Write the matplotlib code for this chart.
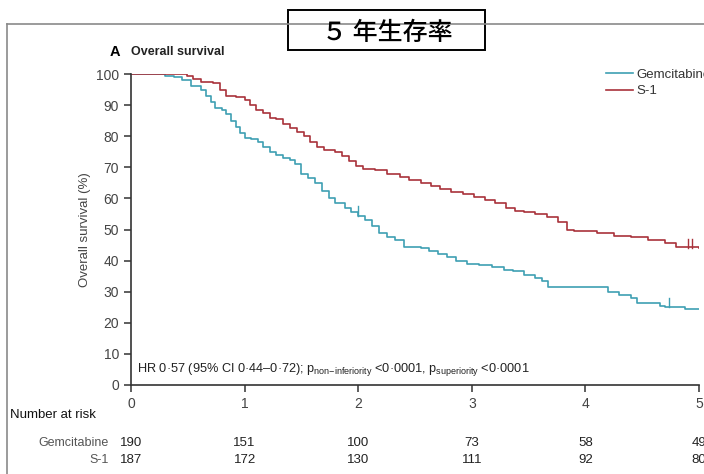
import matplotlib
matplotlib.use("Agg")
import matplotlib.pyplot as plt
from matplotlib.patches import Rectangle
from matplotlib.lines import Line2D

plt.rcParams['font.family'] = ['Liberation Sans Narrow', 'Liberation Sans', 'DejaVu Sans']
plt.rcParams['mathtext.fontset'] = 'custom'
plt.rcParams['mathtext.rm'] = 'Liberation Sans'
plt.rcParams['mathtext.it'] = 'Liberation Sans'

# Kaplan-Meier curves (years, % surviving)
gem_t = [0, 0.30, 0.38, 0.45, 0.53, 0.62, 0.66, 0.70, 0.74, 0.80, 0.84, 0.88, 0.92, 0.96,
         1.00, 1.06, 1.12, 1.16, 1.22, 1.28, 1.34, 1.40, 1.44, 1.50, 1.56, 1.62, 1.68,
         1.74, 1.80, 1.88, 1.94, 2.00, 2.06, 2.12, 2.18, 2.25, 2.32, 2.40, 2.55, 2.62,
         2.70, 2.78, 2.86, 2.96, 3.06, 3.18, 3.28, 3.36, 3.46, 3.56, 3.62, 3.67, 4.20,
         4.30, 4.40, 4.45, 4.66, 4.70, 4.88, 5.00]
gem_s = [100, 99.5, 99, 98, 96, 95, 93, 91, 89, 88.5, 87, 85, 83, 81,
         79.5, 79, 78, 76.5, 75, 74, 73, 72.5, 71, 68, 66.5, 65, 62.5,
         60, 58.5, 57, 55.5, 54.5, 53, 51, 49, 47.5, 46.5, 44.5, 44, 43,
         42, 41, 40, 39, 38.5, 38, 37, 36.5, 35.5, 34.5, 33.5, 31.5, 30,
         29, 28, 26.5, 25.5, 25, 24.5, 24.5]

s1_t = [0, 0.49, 0.55, 0.62, 0.72, 0.78, 0.84, 0.92, 1.00, 1.05, 1.10, 1.16, 1.22, 1.28,
        1.34, 1.40, 1.46, 1.52, 1.58, 1.64, 1.70, 1.80, 1.86, 1.92, 1.98, 2.04, 2.15,
        2.25, 2.37, 2.45, 2.55, 2.64, 2.72, 2.82, 2.92, 3.02, 3.12, 3.20, 3.30, 3.38,
        3.46, 3.56, 3.66, 3.76, 3.84, 3.90, 4.10, 4.25, 4.40, 4.55, 4.70, 4.80, 5.00]
s1_s = [100, 99.5, 98.5, 97.5, 97, 95, 93, 92.5, 91.5, 90, 88.5, 87.5, 86, 85.5,
        84, 82.5, 81.5, 80, 78, 76.5, 75.5, 75, 73.5, 72, 70.5, 69.5, 69,
        68, 67, 66, 65, 64, 63, 62, 61.5, 60.5, 59.5, 58.5, 57, 56,
        55.5, 55, 54, 52.5, 50, 49.5, 49, 48, 47.5, 46.5, 45.5, 44.5, 44]

gem_cens_t = [2.00, 4.74]
gem_cens_s = [54.5, 25]
s1_cens_t = [4.90, 4.94]
s1_cens_s = [44, 44]

risk_years = [0, 1, 2, 3, 4, 5]
risk_gem = [190, 151, 100, 73, 58, 49]
risk_s1 = [187, 172, 130, 111, 92, 80]

teal = '#3e9fb3'
red = '#a9323b'
W, H = 704, 474

fig = plt.figure(figsize=(7.04, 4.74), dpi=100)

# slide frame and title box
fig.add_artist(Line2D([7/W, 1], [1-24/H, 1-24/H], color='#8a8a8a', lw=1.2))
fig.add_artist(Line2D([7/W, 7/W], [0, 1-24/H], color='#8a8a8a', lw=1.2))
fig.add_artist(Rectangle((288/W, 1-50/H), 197/W, 40/H, facecolor='white',
                         edgecolor='black', lw=1.4, transform=fig.transFigure))
fig.text(387/W, 1-33/H, '５ 年生存率', fontsize=18, ha='center', va='center',
         fontweight='medium', family=['Noto Sans CJK JP', 'DejaVu Sans'])

ax = fig.add_axes([131/W, 1-385/H, 568/W, 311/H])
ax.step(gem_t, gem_s, where='post', color=teal, lw=1.2, label='Gemcitabine')
ax.step(s1_t, s1_s, where='post', color=red, lw=1.2, label='S-1')
for t, s in zip(gem_cens_t, gem_cens_s):
    ax.plot([t, t], [s, s + 3], color=teal, lw=1.0)
for t, s in zip(s1_cens_t, s1_cens_s):
    ax.plot([t, t], [s, s + 3], color=red, lw=1.0)

ax.set_xlim(0, 5)
ax.set_ylim(0, 100)
ax.set_xticks(risk_years)
ax.set_yticks(range(0, 101, 10))
for side in ['top', 'right']:
    ax.spines[side].set_visible(False)
for side in ['left', 'bottom']:
    ax.spines[side].set_color('#333333')
    ax.spines[side].set_linewidth(1.2)
ax.tick_params(direction='out', length=5, width=1.1, color='#333333',
               labelsize=10, labelcolor='#444444')
ax.set_ylabel('Overall survival (%)', fontsize=9.5, color='#444444', labelpad=4)

leg = ax.legend(loc='upper left', bbox_to_anchor=(601/W, 1-63/H),
                bbox_transform=fig.transFigure, frameon=False, fontsize=9.5,
                handlelength=2.0, handletextpad=0.3, labelspacing=0.35, borderaxespad=0)
for txt in leg.get_texts():
    txt.set_color('#333333')

fig.text(110/W, 1-52/H, 'A', fontsize=10.5, fontweight='bold', va='center')
fig.text(131/W, 1-52/H, 'Overall survival', fontsize=9, fontweight='bold', va='center',
         color='#222222')

ax.text(137/W, 1-369/H,
        r'HR 0·57 (95% CI 0·44–0·72); p$_{\rm non\!-\!inferiority}$ <0·0001, p$_{\rm superiority}$ <0·0001',
        transform=fig.transFigure, fontsize=9.2, va='center', color='#222222')

# number at risk table
fig.text(10/W, 1-415/H, 'Number at risk', fontsize=9.5, va='center', color='#111111')
fig.text(109/W, 1-443/H, 'Gemcitabine', fontsize=9, va='center', ha='right', color='#555555')
fig.text(109/W, 1-460/H, 'S-1', fontsize=9, va='center', ha='right', color='#555555')
for yr, g, s in zip(risk_years, risk_gem, risk_s1):
    x = ax.transData.transform((yr, 0))[0] / fig.dpi / fig.get_figwidth()
    fig.text(x, 1-443/H, str(g), fontsize=9.5, va='center', ha='center', color='#222222')
    fig.text(x, 1-460/H, str(s), fontsize=9.5, va='center', ha='center', color='#222222')

fig.savefig('out.png', dpi=100)
